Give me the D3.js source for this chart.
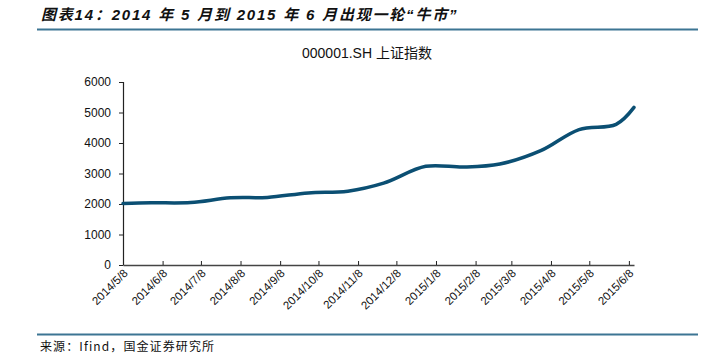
<!DOCTYPE html>
<html><head><meta charset="utf-8">
<script src="https://cdn.jsdelivr.net/npm/d3@7"></script>
<style>body{margin:0;background:#fff}svg{display:block}</style>
</head><body>
<svg id="c" width="708" height="355"></svg>
<script>
const dates = ["2014-05-08","2014-05-30","2014-06-30","2014-07-31","2014-08-29","2014-09-30","2014-10-31","2014-11-28","2014-12-31","2015-01-30","2015-02-27","2015-03-31","2015-04-30","2015-05-29","2015-06-12"];
const values = [2015,2039,2048,2201,2217,2363,2420,2683,3235,3210,3310,3748,4441,4612,5166];
const tickDates = ["2014-05-08","2014-06-08","2014-07-08","2014-08-08","2014-09-08","2014-10-08","2014-11-08","2014-12-08","2015-01-08","2015-02-08","2015-03-08","2015-04-08","2015-05-08","2015-06-08"];
const yTicks = [0,1000,2000,3000,4000,5000,6000];

const parse = d3.timeParse("%Y-%m-%d");
const fmt = d => d.getFullYear()+"/"+(d.getMonth()+1)+"/"+d.getDate();
const data = dates.map((d,i)=>({date:parse(d), v:values[i]}));
const svg = d3.select("#c");

svg.append("text").attr("x",41).attr("y",20)
  .attr("font-family","'Liberation Sans','Noto Sans CJK SC',sans-serif")
  .attr("font-size",15).attr("font-weight","bold").attr("font-style","italic")
  .attr("letter-spacing",1.8)
  .attr("fill","#111").text("图表14：2014 年 5 月到 2015 年 6 月出现一轮“牛市”");
svg.append("line").attr("x1",37).attr("x2",698).attr("y1",29.5).attr("y2",29.5)
  .attr("stroke","#3c7593").attr("stroke-width",2);
svg.append("text").attr("x",367).attr("y",58).attr("text-anchor","middle")
  .attr("font-family","'Liberation Sans','Noto Sans CJK SC',sans-serif")
  .attr("font-size",14).attr("fill","#111").text("000001.SH 上证指数");

const x = d3.scaleTime().domain([parse("2014-05-08"), parse("2015-06-12")]).range([123,634]);
const y = d3.scaleLinear().domain([0,6000]).range([265,82]);

const ya = svg.append("g").attr("transform","translate(123,0)")
  .call(d3.axisLeft(y).tickValues(yTicks).tickSize(4).tickPadding(8).tickFormat(d3.format("d")));
ya.selectAll("text").attr("font-family","'Liberation Sans',Arial,sans-serif").attr("font-size",12).attr("fill","#111");
ya.select(".domain").attr("d","M-4,82.5H0.5V265.5").attr("stroke","#222").attr("stroke-width",1.2);
ya.selectAll(".tick line").attr("stroke","#222");

const xa = svg.append("g").attr("transform","translate(0,265)")
  .call(d3.axisBottom(x).tickValues(tickDates.map(parse)).tickSize(-4).tickSizeOuter(0).tickFormat(fmt));
xa.select(".domain").attr("stroke","#444").attr("stroke-width",1.5);
xa.selectAll(".tick line").attr("stroke","#222");
xa.selectAll("text").attr("font-family","'Liberation Sans',Arial,sans-serif").attr("font-size",11.5).attr("fill","#111")
  .attr("text-anchor","end").attr("dy",null).attr("y",0)
  .attr("transform","translate(5,9) rotate(-45)");

svg.append("path").datum(data)
  .attr("d", d3.line().x(d=>x(d.date)).y(d=>y(d.v)).curve(d3.curveCatmullRom.alpha(0.5)))
  .attr("fill","none").attr("stroke","#0b4f73").attr("stroke-width",3.5).attr("stroke-linecap","round");

svg.append("line").attr("x1",37).attr("x2",698).attr("y1",334.5).attr("y2",334.5)
  .attr("stroke","#3c7593").attr("stroke-width",2);
svg.append("text").attr("x",40).attr("y",351)
  .attr("font-family","'Noto Sans CJK SC',sans-serif").attr("font-size",12).attr("letter-spacing",1.1).attr("fill","#111")
  .text("来源：Ifind，国金证券研究所");
</script>
</body></html>
